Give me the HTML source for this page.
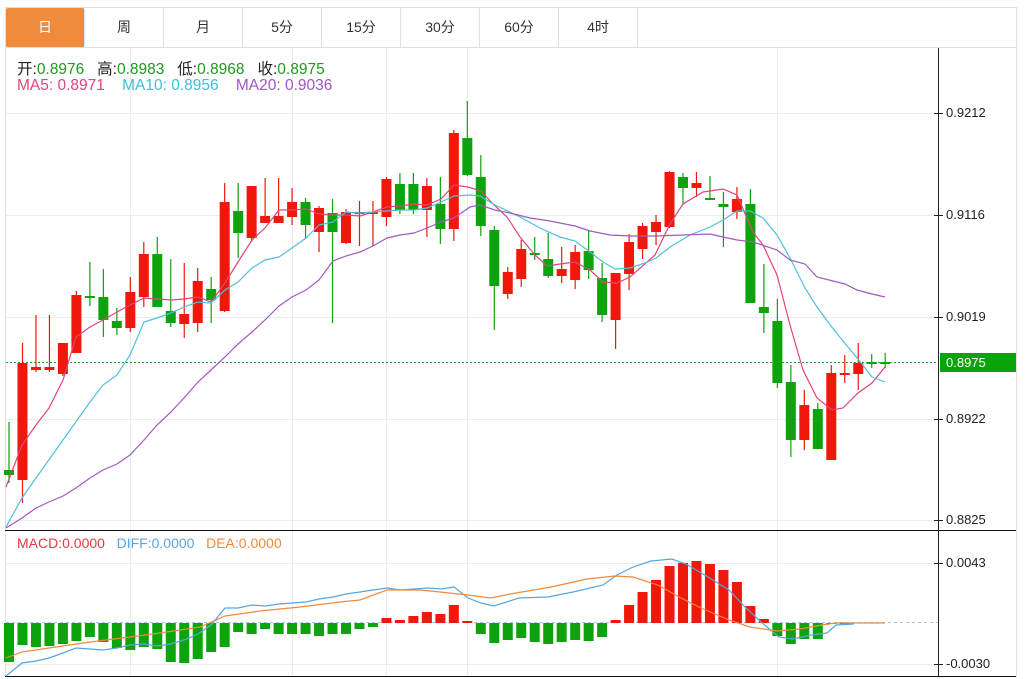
<!DOCTYPE html>
<html><head><meta charset="utf-8">
<style>
body{margin:0;background:#fff;width:1030px;height:679px;overflow:hidden;font-family:"Liberation Sans","Noto Sans CJK SC",sans-serif;}
#wrap{position:absolute;left:0;top:0;width:1030px;height:679px;}
.tab{position:absolute;top:8px;height:39px;width:78px;border-right:1px solid #dde1e6;text-align:center;line-height:39px;font-size:14px;color:#333;}
.t{position:absolute;font-size:14px;white-space:nowrap;}
</style></head><body>
<div id="wrap">
<svg id="s" width="1030" height="679" style="position:absolute;left:0;top:0">
</svg>
<div class="tab" style="left:6px;background:#f08b3e;color:#fff;border-radius:2px;">日</div>
<div class="tab" style="left:85px">周</div>
<div class="tab" style="left:164px">月</div>
<div class="tab" style="left:243px">5分</div>
<div class="tab" style="left:322px">15分</div>
<div class="tab" style="left:401px">30分</div>
<div class="tab" style="left:480px">60分</div>
<div class="tab" style="left:559px">4时</div>
<div class="t" style="left:17px;top:57px;color:#222;font-size:15.5px">开:<span style="color:#1f9a1f">0.8976</span>&nbsp;&nbsp;&nbsp;高:<span style="color:#1f9a1f">0.8983</span>&nbsp;&nbsp;&nbsp;低:<span style="color:#1f9a1f">0.8968</span>&nbsp;&nbsp;&nbsp;收:<span style="color:#1f9a1f">0.8975</span></div>
<div class="t" style="left:17px;top:77px;font-size:15.5px"><span style="color:#e0457b">MA5: 0.8971</span>&nbsp;&nbsp;&nbsp;&nbsp;<span style="color:#3fbfd9">MA10: 0.8956</span>&nbsp;&nbsp;&nbsp;&nbsp;<span style="color:#a355c4">MA20: 0.9036</span></div>
<div class="t" style="left:17px;top:535px;"><span style="color:#e23b3b">MACD:0.0000</span>&nbsp;&nbsp;&nbsp;<span style="color:#5aa5e0">DIFF:0.0000</span>&nbsp;&nbsp;&nbsp;<span style="color:#ef8a3c">DEA:0.0000</span></div>
<div class="t" style="left:946px;top:105px;font-size:13px;color:#222">0.9212</div>
<div class="t" style="left:946px;top:207px;font-size:13px;color:#222">0.9116</div>
<div class="t" style="left:946px;top:309px;font-size:13px;color:#222">0.9019</div>
<div class="t" style="left:946px;top:411px;font-size:13px;color:#222">0.8922</div>
<div class="t" style="left:946px;top:512px;font-size:13px;color:#222">0.8825</div>
<div class="t" style="left:940px;top:353px;width:76px;height:19px;background:#0aa30a;"></div>
<div class="t" style="left:946px;top:355px;font-size:13px;color:#fff">0.8975</div>
<div class="t" style="left:946px;top:555px;font-size:13px;color:#222">0.0043</div>
<div class="t" style="left:946px;top:656px;font-size:13px;color:#222">-0.0030</div>
</div>
<script>
var s=document.getElementById('s');var h='';
function L(x1,y1,x2,y2,c,w,extra){h+='<line x1="'+x1+'" y1="'+y1+'" x2="'+x2+'" y2="'+y2+'" stroke="'+c+'" stroke-width="'+(w||1)+'" '+(extra||'')+'/>';}
function R(x,y,w,hh,c){h+='<rect x="'+x+'" y="'+y+'" width="'+w+'" height="'+hh+'" fill="'+c+'"/>';}
h+='<rect x="5.5" y="7.5" width="1011" height="669" fill="none" stroke="#dde1e6"/>';
L(5,47.5,1016,47.5,'#dde1e6');
[113,215,317,419,520,563,664].forEach(function(y){L(6,y+.5,938,y+.5,'#e6edf3');});
[130,292,386,467,777].forEach(function(x){L(x+.5,48,x+.5,676,'#e6edf3');});
L(938.5,48,938.5,677,'#222');
L(5,530.5,1016,530.5,'#111');L(5,676.5,1016,676.5,'#111');
[113,215,317,419,520,563,664].forEach(function(y){L(934,y+.5,938,y+.5,'#222');L(938,y+.5,943,y+.5,'#222');});
L(6,362.5,938,362.5,'#2aa52a',1,'stroke-dasharray="2,2"');
L(6,622.5,938,622.5,'#a9c8e0',1,'stroke-dasharray="3,3"');
var RED='#f0170b',GRN='#0ca30c';
var C=[[470,475,422,483,'g'],[363,480,343,503,'r'],[367,370,315,372,'r'],[367,370,315,372,'r'],[343,374,343,376,'r'],[295,353,291,353,'r'],[296,298,262,306,'g'],[297,320,269,337,'g'],[321,328,308,335,'g'],[292,328,277,332,'r'],[254,297,242,307,'r'],[254,307,237,307,'g'],[311,323,259,327,'g'],[314,324,263,338,'r'],[281,323,268,332,'r'],[289,300,277,323,'g'],[202,311,183,312,'r'],[211,233,183,258,'g'],[186,238,186,242,'r'],[216,223,178,223,'r'],[216,223,178,223,'r'],[202,217,188,225,'r'],[202,225,198,238,'g'],[208,232,206,252,'r'],[213,232,199,323,'g'],[212,243,209,244,'r'],[212,214,201,246,'r'],[212,214,201,246,'r'],[179,217,177,226,'r'],[184,210,173,214,'g'],[184,210,173,214,'g'],[186,210,178,237,'r'],[204,229,177,244,'g'],[133,229,130,241,'r'],[138,175,101,176,'g'],[177,226,155,236,'g'],[230,286,226,330,'g'],[272,294,267,299,'r'],[249,279,240,287,'r'],[253,255,237,260,'g'],[259,276,233,278,'g'],[269,276,247,283,'r'],[252,280,245,289,'r'],[251,270,230,279,'g'],[278,315,263,322,'g'],[273,320,273,349,'r'],[242,274,234,290,'r'],[226,249,223,259,'r'],[222,232,215,245,'r'],[172,227,171,228,'r'],[177,188,173,205,'g'],[183,188,172,197,'r'],[198,199,176,200,'g'],[204,207,192,247,'g'],[199,212,187,219,'r'],[204,303,189,303,'g'],[307,313,264,333,'g'],[321,383,299,388,'g'],[382,440,365,457,'g'],[405,440,390,450,'r'],[409,449,403,449,'g'],[373,460,365,460,'r'],[373,375,355,383,'r'],[363,374,343,390,'r'],[362,364,354,368,'g'],[362,364,353,368,'g']];
function cx(i){return 9+i*13.48;}
C.forEach(function(c,i){var x=cx(i),col=c[4]=='r'?RED:GRN;L(x,c[2],x,c[3],col,1.2);R(x-5,c[0],10,Math.max(2,c[1]-c[0]),col);});
function P(pts,c,w){h+='<polyline fill="none" stroke="'+c+'" stroke-width="'+(w||1.2)+'" points="'+pts.map(function(p){return p.join(',')}).join(' ')+'"/>';}
P([[6,487],[22,445],[36,425],[49,408],[63,380],[76,337],[90,327],[103,320],[117,312],[130,305],[144,298],[157,299],[171,300],[184,299],[198,297],[211,302],[225,283],[238,262],[252,240],[265,228],[279,210],[292,210],[306,209],[319,214],[333,215],[346,215],[360,216],[373,212],[387,207],[400,206],[414,204],[427,205],[441,199],[454,185],[468,187],[481,191],[494,205],[507,217],[520,237],[535,255],[547,266],[560,264],[575,262],[590,270],[603,282],[617,283],[630,277],[655,255],[670,224],[683,204],[703,192],[723,189],[737,195],[753,232],[763,245],[777,275],[790,325],[803,370],[817,398],[832,410],[843,408],[858,393],[872,383],[885,367]],'#e0457b');
P([[6,527],[22,498],[36,478],[63,440],[90,402],[103,385],[117,375],[130,355],[144,322],[157,318],[171,313],[184,307],[198,302],[211,303],[225,290],[238,282],[252,268],[265,260],[279,257],[292,248],[306,238],[319,225],[333,222],[346,212],[360,213],[373,212],[387,211],[400,210],[414,210],[427,208],[441,202],[454,196],[470,195],[480,196],[495,205],[520,217],[540,228],[560,237],[575,241],[590,252],[603,262],[615,269],[630,268],[645,263],[656,258],[670,247],[690,235],[710,227],[723,220],[737,211],[750,211],[763,218],[777,235],[790,258],[805,288],[817,307],[831,326],[843,341],[858,359],[872,377],[885,382]],'#4ec1d9');
P([[6,528],[22,518],[36,508],[49,502],[63,496],[76,488],[90,478],[103,470],[117,464],[130,455],[144,440],[157,425],[171,412],[184,398],[198,382],[211,370],[225,357],[238,344],[252,332],[265,320],[279,306],[292,297],[306,290],[319,280],[333,261],[346,256],[360,252],[373,246],[387,238],[400,235],[414,233],[427,228],[441,222],[454,218],[470,207],[480,205],[495,210],[510,213],[530,218],[550,221],[575,226],[590,231],[610,235],[630,236],[655,236],[683,235],[710,234],[723,237],[737,240],[753,242],[777,250],[790,260],[805,264],[817,277],[845,284],[857,290],[872,294],[885,297]],'#a05bbf');
var M=[662,645,647,646,644,641,637,642,648,650,647,649,662,663,659,652,647,632,634,629,634,634,634,636,634,634,629,627,618,620,616,612,614,605,621,634,643,640,638,642,644,642,640,641,637,620,605,592,580,566,563,561,564,570,582,606,619,636,644,639,639,624,624,623,623,623];
M.forEach(function(y,i){var x=cx(i);if(y<623){R(x-5,y,10,623-y,RED);}else if(y>623){R(x-5,623,10,y-623,GRN);}});
P([[6,676],[22,663],[36,661],[49,658],[63,653],[76,648],[90,649],[103,650],[117,648],[130,645],[144,644],[157,646],[171,644],[184,640],[198,634],[211,625],[225,608],[238,608],[252,605],[265,606],[279,604],[292,603],[306,602],[319,599],[333,597],[346,594],[360,592],[373,590],[387,588],[400,590],[414,589],[427,588],[441,589],[454,587],[468,598],[481,603],[494,606],[519,598],[548,597],[573,592],[603,585],[617,575],[633,567],[651,561],[672,559],[686,564],[708,577],[729,590],[745,607],[761,622],[779,637],[793,639],[811,635],[827,633],[836,625],[854,624]],'#5aa5e0');
P([[6,658],[22,652],[49,648],[90,642],[130,637],[160,633],[200,627],[225,616],[260,611],[300,607],[340,602],[360,600],[387,590],[420,590],[440,592],[468,595],[490,598],[516,593],[551,587],[587,579],[615,576],[633,577],[658,585],[679,597],[701,608],[729,620],[750,627],[777,631],[800,629],[822,625],[836,623],[885,623]],'#ef8a3c');
s.innerHTML=h;
</script>
</body></html>
